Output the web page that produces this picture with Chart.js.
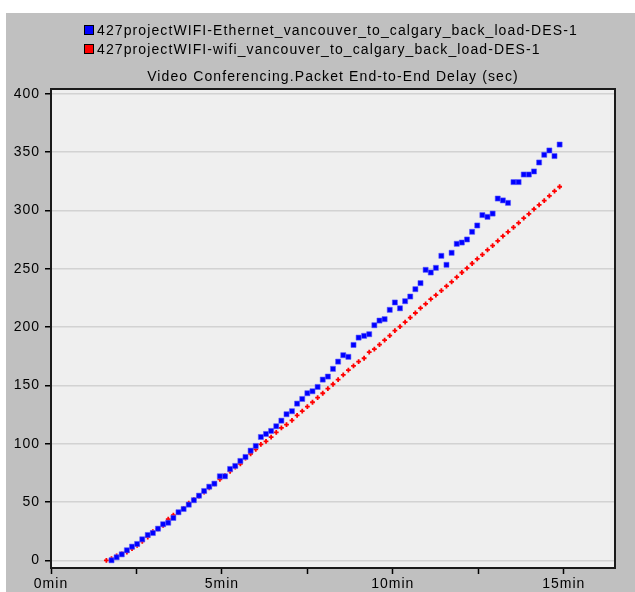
<!DOCTYPE html>
<html>
<head>
<meta charset="utf-8">
<script src="https://cdn.jsdelivr.net/npm/chart.js@4.4.1/dist/chart.umd.min.js"></script>
<style>
  html, body { margin: 0; padding: 0; background: #fff; }
  #wrap { position: relative; width: 635px; height: 592px; overflow: hidden; }
  #chart { position: absolute; left: 0; top: 0; }
  .txt { position: absolute; font-family: "Liberation Sans", Arial, sans-serif; font-size: 14px;
         line-height: 16px; color: #000; letter-spacing: 1.1px; white-space: nowrap; }
  .sw { position: absolute; width: 8px; height: 8px; border: 1px solid #000; }
</style>
</head>
<body>
<div id="wrap">
  <canvas id="chart" width="635" height="592"></canvas>
  <div class="sw" id="sw0" style="left:84px; top:25px;"></div>
  <div class="txt" id="lg0" style="left:97px; top:22px;"></div>
  <div class="sw" id="sw1" style="left:84px; top:44px;"></div>
  <div class="txt" id="lg1" style="left:97px; top:41px;"></div>
  <div class="txt" id="title" style="left:51px; top:68px; width:564px; text-align:center;"></div>
</div>
<script>
// series names and title
const seriesNames = [
  '427projectWIFI-Ethernet_vancouver_to_calgary_back_load-DES-1',
  '427projectWIFI-wifi_vancouver_to_calgary_back_load-DES-1'
];
const seriesColors = ['#0000ff', '#ff0000'];
const chartTitle = 'Video Conferencing.Packet End-to-End Delay (sec)';

// sample times (minutes)
const timeMin = [
  1.62, 1.77, 1.92, 2.07, 2.22, 2.37, 2.52, 2.67, 2.83, 2.98,
  3.13, 3.28, 3.43, 3.58, 3.73, 3.88, 4.03, 4.18, 4.33, 4.48,
  4.63, 4.78, 4.94, 5.09, 5.24, 5.39, 5.54, 5.69, 5.84, 5.99,
  6.14, 6.29, 6.44, 6.59, 6.74, 6.89, 7.05, 7.20, 7.35, 7.50,
  7.65, 7.80, 7.95, 8.10, 8.25, 8.40, 8.55, 8.70, 8.85, 9.00,
  9.16, 9.31, 9.46, 9.61, 9.76, 9.91, 10.06, 10.21, 10.36, 10.51,
  10.66, 10.81, 10.96, 11.11, 11.26, 11.42, 11.57, 11.72, 11.87, 12.02,
  12.17, 12.32, 12.47, 12.62, 12.77, 12.92, 13.07, 13.22, 13.37, 13.53,
  13.68, 13.83, 13.98, 14.13, 14.28, 14.43, 14.58, 14.73, 14.88
];

// delay (sec), Ethernet
const ethernetDelay = [
  null, 0, 2.6, 5.1, 8.6, 11.7, 14.0, 18.0, 21.7, 23.4,
  27.1, 30.9, 32.2, 36.3, 41.2, 44.0, 47.7, 51.5, 55.4, 59.4,
  63.1, 65.7, 72.0, 72.0, 78.3, 80.9, 85.2, 88.6, 94.0, 98.0,
  105.7, 108.3, 110.9, 114.9, 119.7, 125.2, 127.8, 134.3, 138.3, 143.2,
  144.9, 148.6, 154.9, 157.5, 164.1, 170.3, 175.8, 174.4, 184.6, 190.9,
  192.4, 193.8, 201.5, 205.5, 206.7, 214.7, 221.0, 216.0, 222.1, 226.1,
  232.4, 237.6, 249.0, 246.7, 250.7, 261.0, 253.3, 263.6, 271.3, 272.4,
  275.0, 281.6, 287.0, 295.9, 294.4, 297.2, 310.1, 308.5, 306.4, 324.2,
  324.2, 330.7, 330.7, 333.3, 341.0, 347.6, 351.3, 346.5, 356.4
];

// delay (sec), wifi
const wifiDelay = [
  0, 1.5, 3.8, 5.5, 7.0, 10.0, 12.9, 16.3, 19.8, 24.5,
  27.0, 30.0, 35.2, 38.8, 41.0, 44.5, 48.9, 52.0, 55.0, 58.5,
  62.0, 65.5, 69.3, 72.5, 76.2, 79.8, 82.6, 87.7, 91.2, 95.0,
  99.3, 102.0, 105.6, 109.6, 113.5, 116.3, 120.0, 124.2, 127.8, 131.7,
  135.5, 139.5, 143.2, 147.2, 150.9, 154.9, 158.9, 163.0, 166.6, 170.3,
  173.2, 178.4, 181.0, 184.9, 188.7, 192.6, 196.9, 200.3, 204.1, 208.1,
  212.0, 216.1, 219.8, 223.8, 227.3, 231.2, 235.0, 238.7, 242.7, 246.7,
  250.4, 254.4, 258.4, 262.1, 266.1, 269.8, 273.8, 277.9, 281.6, 285.3,
  289.3, 293.3, 297.0, 301.0, 304.7, 308.4, 312.4, 316.5, 320.2
];

const xTickValues = [0, 2.5, 5, 7.5, 10, 12.5, 15];
const yTickValues = [0, 50, 100, 150, 200, 250, 300, 350, 400];

document.getElementById('lg0').textContent = seriesNames[0];
document.getElementById('lg1').textContent = seriesNames[1];
document.getElementById('sw0').style.background = seriesColors[0];
document.getElementById('sw1').style.background = seriesColors[1];
document.getElementById('title').textContent = chartTitle;

function toPoints(vals) {
  const pts = [];
  vals.forEach((v, i) => { if (v !== null) pts.push({ x: timeMin[i], y: v }); });
  return pts;
}

// gray frame, plot background, border
const framePlugin = {
  id: 'frame',
  beforeDraw(chart) {
    const ctx = chart.ctx;
    const a = chart.chartArea;
    ctx.save();
    ctx.fillStyle = '#c0c0c0';
    ctx.fillRect(6, 13, chart.width - 6, chart.height - 13);
    ctx.fillStyle = '#efefef';
    ctx.fillRect(a.left, a.top, a.right - a.left, a.bottom - a.top);
    ctx.restore();
    ctx.letterSpacing = '1px';
  },
  afterDraw(chart) {
    const ctx = chart.ctx;
    const a = chart.chartArea;
    ctx.save();
    ctx.strokeStyle = '#1a1a1a';
    ctx.lineWidth = 2;
    ctx.strokeRect(a.left, a.top, a.right - a.left, a.bottom - a.top);
    ctx.restore();
  }
};

const tickFont = { family: '"Liberation Sans", Arial, sans-serif', size: 14 };

new Chart(document.getElementById('chart'), {
  type: 'scatter',
  data: {
    datasets: [{
      label: seriesNames[0],
      data: toPoints(ethernetDelay),
      pointStyle: 'rect',
      pointRadius: 3.6,
      backgroundColor: seriesColors[0],
      borderColor: 'rgba(90,90,255,0.55)',
      borderWidth: 1,
      showLine: false
    }, {
      label: seriesNames[1],
      data: toPoints(wifiDelay),
      pointStyle: 'cross',
      pointRadius: 2.4,
      backgroundColor: seriesColors[1],
      borderColor: seriesColors[1],
      borderWidth: 1.8,
      showLine: false
    }]
  },
  options: {
    responsive: false,
    animation: false,
    events: [],
    layout: { padding: { left: 0, right: 20, top: 89, bottom: 0 } },
    plugins: {
      legend: { display: false },
      title: { display: false },
      tooltip: { enabled: false }
    },
    scales: {
      x: {
        type: 'linear',
        min: 0,
        max: 16.5,
        afterBuildTicks: (s) => { s.ticks = xTickValues.map(v => ({ value: v })); },
        afterFit: (s) => { s.height = 24; },
        border: { display: false },
        grid: { drawOnChartArea: false, tickColor: '#000', tickLength: 6, tickWidth: 1.5 },
        ticks: {
          autoSkip: false,
          maxRotation: 0,
          padding: 2,
          color: '#000',
          font: tickFont,
          callback: (v) => (v % 5 === 0 ? v + 'min' : '')
        }
      },
      y: {
        type: 'linear',
        min: -6.6,
        max: 404,
        afterBuildTicks: (s) => { s.ticks = yTickValues.map(v => ({ value: v })); },
        afterFit: (s) => { s.width = 51; },
        border: { display: false },
        grid: { color: '#d2d2d2', lineWidth: 1.5, tickColor: '#000', tickLength: 6, tickWidth: 1.5 },
        ticks: {
          padding: 5,
          color: '#000',
          font: tickFont,
          callback: (v) => v
        }
      }
    }
  },
  plugins: [framePlugin]
});
</script>
</body>
</html>
